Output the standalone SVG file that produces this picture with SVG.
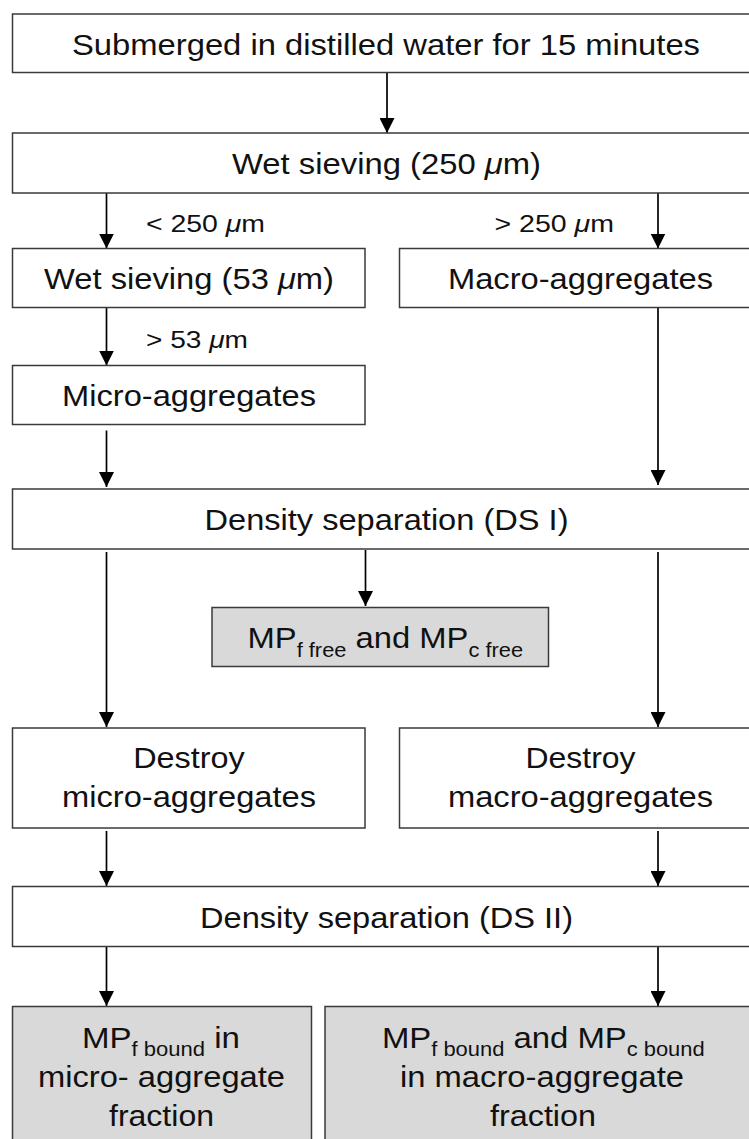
<svg xmlns="http://www.w3.org/2000/svg" width="749" height="1139" viewBox="0 0 749 1139">
<style>
.box{fill:#ffffff;stroke:#3a3a3a;stroke-width:1.5}
.gray{fill:#d9d9d9;stroke:#3a3a3a;stroke-width:1.5}
.t{font-family:"Liberation Sans",Arial,sans-serif;font-size:30px;fill:#111111;text-anchor:middle}
.lbl{font-family:"Liberation Sans",Arial,sans-serif;font-size:24px;fill:#111111}
.sub{font-size:20px}
.mu{font-style:italic}
.arr{stroke:#000000;stroke-width:1.7;fill:none;marker-end:url(#ah)}
</style>
<defs>
<marker id="ah" markerUnits="userSpaceOnUse" markerWidth="15" markerHeight="15" viewBox="0 0 15 15" refX="15" refY="7.5" orient="auto">
<path d="M0,0 L15,7.5 L0,15 z" fill="#000000"/>
</marker>
</defs>
<rect width="749" height="1139" fill="#ffffff"/>

<g id="connectors">
<line class="arr" x1="387" y1="72.5" x2="387" y2="133"/>
<line class="arr" x1="106.5" y1="193" x2="106.5" y2="248.5"/>
<line class="arr" x1="658" y1="193" x2="658" y2="248.5"/>
<line class="arr" x1="106.5" y1="308" x2="106.5" y2="365.5"/>
<line class="arr" x1="106.5" y1="430.5" x2="106.5" y2="487"/>
<line class="arr" x1="658" y1="308" x2="658" y2="485"/>
<line class="arr" x1="365.5" y1="550" x2="365.5" y2="606"/>
<line class="arr" x1="106.5" y1="552" x2="106.5" y2="727"/>
<line class="arr" x1="658" y1="552" x2="658" y2="727"/>
<line class="arr" x1="106.5" y1="831" x2="106.5" y2="886"/>
<line class="arr" x1="658" y1="831" x2="658" y2="886"/>
<line class="arr" x1="106.5" y1="947" x2="106.5" y2="1006"/>
<line class="arr" x1="658" y1="947" x2="658" y2="1006"/>
<text class="lbl" x="146" y="231.5" textLength="119" lengthAdjust="spacingAndGlyphs">&lt; 250 <tspan class="mu">μ</tspan>m</text>
<text class="lbl" x="494.5" y="231.5" textLength="119.5" lengthAdjust="spacingAndGlyphs">&gt; 250 <tspan class="mu">μ</tspan>m</text>
<text class="lbl" x="146" y="348" textLength="102" lengthAdjust="spacingAndGlyphs">&gt; 53 <tspan class="mu">μ</tspan>m</text>
</g>

<g id="n1">
<rect class="box" x="12.5" y="14" width="760" height="58.5"/>
<text class="t" x="386" y="54.5" textLength="628" lengthAdjust="spacingAndGlyphs">Submerged in distilled water for 15 minutes</text>
</g>
<g id="n2">
<rect class="box" x="12.5" y="133" width="760" height="60"/>
<text class="t" x="386.5" y="174" textLength="309" lengthAdjust="spacingAndGlyphs">Wet sieving (250 <tspan class="mu">μ</tspan>m)</text>
</g>
<g id="n3">
<rect class="box" x="12.5" y="248.5" width="352.5" height="59"/>
<text class="t" x="189" y="288.5" textLength="290" lengthAdjust="spacingAndGlyphs">Wet sieving (53 <tspan class="mu">μ</tspan>m)</text>
</g>
<g id="n4">
<rect class="box" x="399.5" y="248.5" width="372" height="59"/>
<text class="t" x="580.5" y="288.5" textLength="265" lengthAdjust="spacingAndGlyphs">Macro-aggregates</text>
</g>
<g id="n5">
<rect class="box" x="12.5" y="365.5" width="352.5" height="59"/>
<text class="t" x="189" y="406" textLength="254" lengthAdjust="spacingAndGlyphs">Micro-aggregates</text>
</g>
<g id="n6">
<rect class="box" x="12.5" y="489" width="760" height="60"/>
<text class="t" x="386.5" y="530" textLength="364" lengthAdjust="spacingAndGlyphs">Density separation (DS I)</text>
</g>
<g id="n7">
<rect class="gray" x="212" y="607.5" width="336.5" height="59"/>
<text class="t" x="385.3" y="648" textLength="275.5" lengthAdjust="spacingAndGlyphs">MP<tspan class="sub" dy="8.5">f free</tspan><tspan dy="-8.5"> and MP</tspan><tspan class="sub" dy="8.5">c free</tspan></text>
</g>
<g id="n8">
<rect class="box" x="12.5" y="728" width="352.5" height="100"/>
<text class="t" x="189" y="768" textLength="111.6" lengthAdjust="spacingAndGlyphs">Destroy</text>
<text class="t" x="189" y="806.5" textLength="254" lengthAdjust="spacingAndGlyphs">micro-aggregates</text>
</g>
<g id="n9">
<rect class="box" x="399.5" y="728" width="372" height="100"/>
<text class="t" x="580.5" y="768" textLength="110" lengthAdjust="spacingAndGlyphs">Destroy</text>
<text class="t" x="580.5" y="806.5" textLength="265" lengthAdjust="spacingAndGlyphs">macro-aggregates</text>
</g>
<g id="n10">
<rect class="box" x="12.5" y="886.5" width="760" height="60"/>
<text class="t" x="386.5" y="928" textLength="373" lengthAdjust="spacingAndGlyphs">Density separation (DS II)</text>
</g>
<g id="n11">
<rect class="gray" x="12.5" y="1006.5" width="299" height="200"/>
<text class="t" x="161" y="1047.5" textLength="158" lengthAdjust="spacingAndGlyphs">MP<tspan class="sub" dy="8.5">f bound</tspan><tspan dy="-8.5"> in</tspan></text>
<text class="t" x="161.5" y="1086.5" textLength="247" lengthAdjust="spacingAndGlyphs">micro- aggregate</text>
<text class="t" x="161.5" y="1126" textLength="105" lengthAdjust="spacingAndGlyphs">fraction</text>
</g>
<g id="n12">
<rect class="gray" x="325" y="1006.5" width="450" height="200"/>
<text class="t" x="543.3" y="1047.5" textLength="322.7" lengthAdjust="spacingAndGlyphs">MP<tspan class="sub" dy="8.5">f bound</tspan><tspan dy="-8.5"> and MP</tspan><tspan class="sub" dy="8.5">c bound</tspan></text>
<text class="t" x="542" y="1086.5" textLength="284" lengthAdjust="spacingAndGlyphs">in macro-aggregate</text>
<text class="t" x="543" y="1126" textLength="106" lengthAdjust="spacingAndGlyphs">fraction</text>
</g>
</svg>
